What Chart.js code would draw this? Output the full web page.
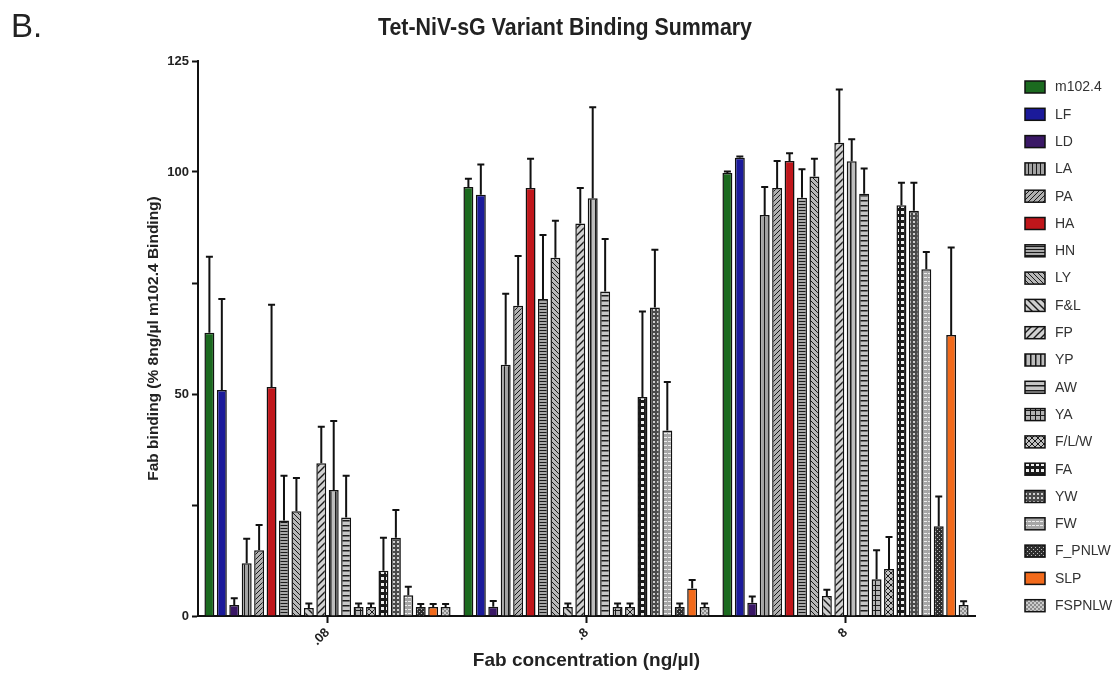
<!DOCTYPE html>
<html>
<head>
<meta charset="utf-8">
<script src="https://cdn.jsdelivr.net/npm/chart.js@4.4.0/dist/chart.umd.min.js"></script>
<style>
  html, body { margin: 0; padding: 0; background: #fff; }
  #wrap { width: 1113px; height: 674px; }
</style>
</head>
<body>
<div id="wrap"><canvas id="myChart"></canvas></div>
<script>
// Fab concentrations (x categories)
let concentrations = [".08", ".8", "8"];

// Fab variants (one bar series each)
let variants = ["m102.4", "LF", "LD", "LA", "PA", "HA", "HN", "LY", "F&L", "FP",
                "YP", "AW", "YA", "F/L/W", "FA", "YW", "FW", "F_PNLW", "SLP", "FSPNLW"];

// mean binding (% of 8ng/ul m102.4) at each concentration, in variant order
let meanLow  = [63.8, 50.9, 2.5, 11.9, 14.8, 51.6, 21.5, 23.6, 1.8, 34.4,
                28.4, 22.2, 2.0, 2.0, 10.2, 17.6, 4.7, 2.0, 2.0, 2.0];
let meanMid  = [96.6, 94.9, 2.1, 56.6, 69.9, 96.4, 71.4, 80.7, 2.0, 88.4,
                94.1, 73.1, 2.0, 2.0, 49.3, 69.5, 41.8, 2.0, 6.2, 2.0];
let meanHigh = [99.8, 103.2, 3.0, 90.3, 96.4, 102.5, 94.2, 99.0, 4.5, 106.6,
                102.4, 95.1, 8.3, 10.6, 92.5, 91.3, 78.1, 20.2, 63.3, 2.5];

// upper error bar sizes
let errLow  = [17.1, 20.5, 1.5, 5.5, 5.7, 18.5, 10.1, 7.5, 1.0, 8.2,
               15.5, 9.4, 0.8, 0.8, 7.4, 6.3, 1.9, 0.7, 0.7, 0.7];
let errMid  = [1.9, 6.8, 1.3, 16.0, 11.2, 6.6, 14.4, 8.3, 0.8, 8.0,
               20.5, 11.8, 0.8, 0.8, 19.3, 13.0, 10.9, 0.8, 1.9, 0.8];
let errHigh = [0.3, 0.3, 1.4, 6.3, 6.1, 1.7, 6.4, 4.0, 1.4, 12.0,
               5.0, 5.7, 6.5, 7.2, 5.1, 6.3, 3.9, 6.7, 19.7, 0.8];

let yTickValues = [0, 25, 50, 75, 100, 125];
let yTickLabels = ["0", "", "50", "", "100", "125"];

// ---- fills ----
function makePattern(bg, w, h, draw) {
    let c = document.createElement("canvas");
    c.width = w;
    c.height = h;
    let g = c.getContext("2d");
    g.fillStyle = bg;
    g.fillRect(0, 0, w, h);
    g.fillStyle = "#1a1a1a";
    g.strokeStyle = "#1a1a1a";
    g.lineWidth = 1;
    draw(g, w, h);
    return g.createPattern(c, "repeat");
}

function slash(g, w, h) {
    g.beginPath();
    g.moveTo(-1, h + 1); g.lineTo(w + 1, -1);
    g.moveTo(-1, 1); g.lineTo(1, -1);
    g.moveTo(w - 1, h + 1); g.lineTo(w + 1, h - 1);
    g.stroke();
}
function backslash(g, w, h) {
    g.beginPath();
    g.moveTo(-1, -1); g.lineTo(w + 1, h + 1);
    g.moveTo(w - 1, -1); g.lineTo(w + 1, 1);
    g.moveTo(-1, h - 1); g.lineTo(1, h + 1);
    g.stroke();
}

let fills = {
    "m102.4": "#1b6a1f",
    "LF": "#1b1a9a",
    "LD": "#3a1866",
    "LA": makePattern("#a3a3a3", 4, 4, (g) => g.fillRect(0, 0, 1, 4)),
    "PA": makePattern("#b0b0b0", 5, 5, slash),
    "HA": "#c0161b",
    "HN": makePattern("#a8a8a8", 4, 3, (g) => g.fillRect(0, 0, 4, 1)),
    "LY": makePattern("#b8b8b8", 5, 5, backslash),
    "F&L": makePattern("#cfcfcf", 7, 7, (g, w, h) => { g.lineWidth = 1.4; backslash(g, w, h); }),
    "FP": makePattern("#d2d2d2", 7, 7, (g, w, h) => { g.lineWidth = 1.4; slash(g, w, h); }),
    "YP": makePattern("#bdbdbd", 5, 4, (g) => g.fillRect(0, 0, 1.5, 4)),
    "AW": makePattern("#c6c6c6", 4, 5, (g) => g.fillRect(0, 0, 4, 1.5)),
    "YA": makePattern("#b4b4b4", 5, 5, (g) => { g.fillRect(0, 0, 5, 1); g.fillRect(0, 0, 1, 5); }),
    "F/L/W": makePattern("#c2c2c2", 6, 6, (g, w, h) => { slash(g, w, h); backslash(g, w, h); }),
    "FA": makePattern("#1a1a1a", 5, 6, (g) => { g.fillStyle = "#f0f0f0"; g.fillRect(1, 1, 3, 3); }),
    "YW": makePattern("#4a4a4a", 4, 4, (g) => { g.fillStyle = "#cfcfcf"; g.fillRect(1, 1, 2, 2); }),
    "FW": makePattern("#a6a6a6", 4, 4, (g) => { g.fillStyle = "#eeeeee"; g.fillRect(0, 1, 3, 1); }),
    "F_PNLW": makePattern("#2e2e2e", 4, 4, (g) => { g.fillStyle = "#bbbbbb"; g.fillRect(1, 1, 1, 1); g.fillRect(3, 3, 1, 1); }),
    "SLP": "#f26a1b",
    "FSPNLW": makePattern("#8c8c8c", 4, 4, (g) => { g.fillStyle = "#cccccc"; g.fillRect(0, 0, 2, 2); g.fillRect(2, 2, 2, 2); })
};

let datasets = variants.map((name, i) => ({
    label: name,
    data: [meanLow[i], meanMid[i], meanHigh[i]],
    errors: [errLow[i], errMid[i], errHigh[i]],
    backgroundColor: fills[name],
    borderColor: "#111",
    borderWidth: 1.5,
    categoryPercentage: 0.96,
    barPercentage: 0.8
}));

// upper error bars drawn through the y scale
const errorBars = {
    id: "errorBars",
    afterDatasetsDraw(chart) {
        let ctx = chart.ctx;
        let yScale = chart.scales.y;
        chart.data.datasets.forEach((ds, i) => {
            let meta = chart.getDatasetMeta(i);
            meta.data.forEach((bar, j) => {
                let top = yScale.getPixelForValue(ds.data[j] + ds.errors[j]);
                ctx.save();
                ctx.strokeStyle = "#111";
                ctx.lineWidth = 2;
                ctx.beginPath();
                ctx.moveTo(bar.x, bar.y);
                ctx.lineTo(bar.x, top);
                ctx.moveTo(bar.x - 3.5, top);
                ctx.lineTo(bar.x + 3.5, top);
                ctx.stroke();
                ctx.restore();
            });
        });
    }
};

// legend column on the right, title and panel letter
const sideLegend = {
    id: "sideLegend",
    afterDraw(chart) {
        let ctx = chart.ctx;
        let left = chart.chartArea.right + 50;
        let top = 81;
        let step = 27.3;
        ctx.save();
        chart.data.datasets.forEach((ds, i) => {
            let y = top + i * step;
            ctx.fillStyle = ds.backgroundColor;
            ctx.fillRect(left, y, 20, 12);
            ctx.strokeStyle = "#111";
            ctx.lineWidth = 1.5;
            ctx.strokeRect(left, y, 20, 12);
            ctx.fillStyle = "#333";
            ctx.font = '14px "Liberation Sans", Arial, sans-serif';
            ctx.textBaseline = "middle";
            ctx.fillText(ds.label, left + 30, y + 6.5);
        });
        ctx.fillStyle = "#222";
        ctx.font = '33px "Liberation Sans", Arial, sans-serif';
        ctx.textBaseline = "middle";
        ctx.textAlign = "left";
        ctx.fillText("B.", 11, 28);

        // chart title, slightly condensed
        ctx.translate(565, 29);
        ctx.scale(0.93, 1);
        ctx.font = 'bold 23px "Liberation Sans", Arial, sans-serif';
        ctx.textAlign = "center";
        ctx.fillText("Tet-NiV-sG Variant Binding Summary", 0, 0);
        ctx.restore();
    }
};

new Chart("myChart", {
    type: "bar",
    data: {
        labels: concentrations,
        datasets: datasets
    },
    plugins: [errorBars, sideLegend],
    options: {
        responsive: true,
        maintainAspectRatio: false,
        animation: false,
        events: [],
        layout: { padding: { left: 136, right: 138, top: 61, bottom: 0 } },
        plugins: {
            legend: { display: false },
            tooltip: { enabled: false },
            title: { display: false }
        },
        scales: {
            x: {
                offset: true,
                grid: { display: true, drawOnChartArea: false, offset: false, tickLength: 7, tickColor: "#111", tickWidth: 2 },
                border: { display: true, color: "#111", width: 2 },
                ticks: {
                    color: "#222",
                    minRotation: 45,
                    maxRotation: 45,
                    padding: 2,
                    font: { family: '"Liberation Sans", Arial, sans-serif', size: 13, weight: "bold" }
                },
                title: {
                    display: true,
                    text: "Fab concentration (ng/\u00b5l)",
                    color: "#222",
                    padding: { top: 0, bottom: 2 },
                    font: { family: '"Liberation Sans", Arial, sans-serif', size: 19, weight: "bold" }
                },
                afterFit: (s) => { s.height = 58; }
            },
            y: {
                min: 0,
                max: 125,
                afterBuildTicks: (s) => { s.ticks = yTickValues.map((v) => ({ value: v })); },
                grid: { display: true, drawOnChartArea: false, tickLength: 6, tickColor: "#111", tickWidth: 2 },
                border: { display: true, color: "#111", width: 2 },
                ticks: {
                    color: "#222",
                    padding: 3,
                    callback: (v) => yTickLabels[yTickValues.indexOf(v)],
                    font: { family: '"Liberation Sans", Arial, sans-serif', size: 13, weight: "bold" }
                },
                title: {
                    display: true,
                    text: "Fab binding (% 8ng/\u00b5l m102.4 Binding)",
                    color: "#222",
                    padding: { top: 8, bottom: 0 },
                    font: { family: '"Liberation Sans", Arial, sans-serif', size: 15.5, weight: "bold" }
                },
                afterFit: (s) => { s.width = 62; }
            }
        }
    }
});
</script>
</body>
</html>
